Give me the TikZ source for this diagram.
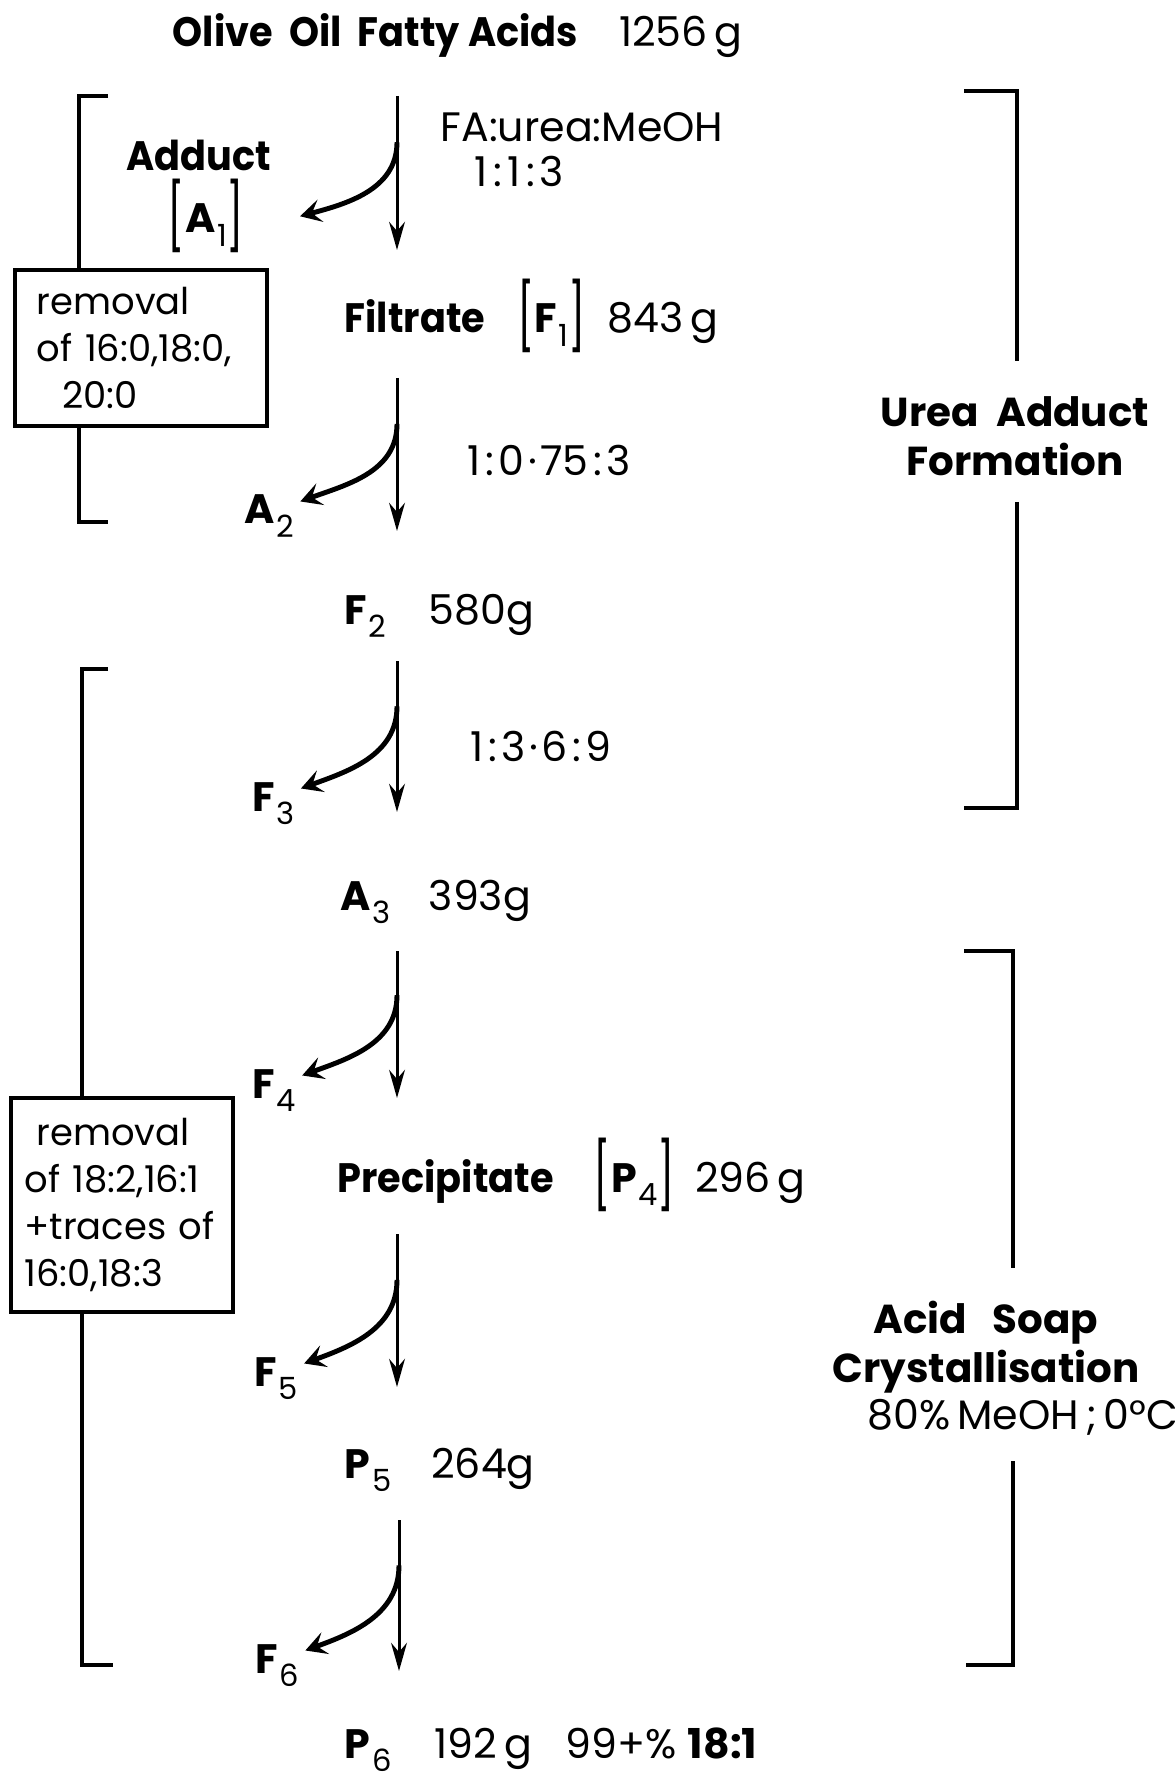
\documentclass[tikz,border=0pt]{standalone}
\usepackage{fontspec}
\setmainfont{Poppins}
\newfontfamily\narrowfont[FakeStretch=0.93]{Poppins}
\usepackage{graphicx}
\usetikzlibrary{arrows.meta, calc}

% narrow bold text
\newcommand{\nb}[1]{{\narrowfont\bfseries #1}}
% fraction label: bold letter with lowered index
\newcommand{\frc}[2]{\textbf{#1}\kern0.5pt\raisebox{-0.6ex}{\fontsize{8.7}{9}\selectfont #2}}
% tall square brackets round a fraction label
\newcommand{\bkt}[1]{\raisebox{-0.35ex}{\scalebox{1}[1.6]{[}}#1\raisebox{-0.35ex}{\scalebox{1}[1.6]{]}}}
% spaced colon and dot for the ratios
\newcommand{\cn}{\kern1.3pt:\kern1.3pt}
\newcommand{\dt}{\kern1pt·\kern1pt}

\begin{document}
\begin{tikzpicture}[
    every node/.style={inner sep=0pt},
    txt/.style={font=\fontsize{11.7}{14}\selectfont, anchor=base west},
    stage/.style={font=\bfseries\fontsize{11.5}{13.9}\selectfont, align=center},
    removal/.style={draw, line width=1.1pt, fill=white, align=left,
        font=\fontsize{10.5}{13.4}\selectfont, inner ysep=0pt},
    mainarr/.style={-{Stealth[length=8pt,width=4.5pt]}, line width=0.85pt},
    sidearr/.style={-{Stealth[length=6pt,width=6.5pt,inset=2.5pt]}, line width=1.4pt},
    bracket/.style={line width=1pt}
]
\useasboundingbox (0,0) rectangle (11.74,-17.79);

% Title
\node[txt] (title) at (1.72,-0.465) {\nb{Olive\ \ Oil\ \ Fatty\ Acids}\hspace{0.41cm}1256\,g};

% Left brackets
\draw[bracket] (1.08,-0.96) -- (0.79,-0.96) -- (0.79,-5.22) -- (1.08,-5.22);
\draw[bracket] (1.08,-6.69) -- (0.82,-6.69) -- (0.82,-16.65) -- (1.13,-16.65);

% Removal boxes
\node[removal, text width=2.08cm, minimum height=1.56cm, inner xsep=0.22cm] (rm1) at (1.41,-3.48)
    {removal\\of 16:0,18:0,\\\hspace*{0.25cm}20:0};
\node[removal, text width=1.95cm, minimum height=2.14cm, inner xsep=0.135cm] (rm2) at (1.22,-12.05)
    {\hspace*{0.12cm}removal\\of 18:2,16:1\\+traces of\\16:0,18:3};

% Right brackets
\draw[bracket] (9.64,-0.91) -- (10.17,-0.91) -- (10.17,-3.61);
\draw[bracket] (10.17,-5.02) -- (10.17,-8.08) -- (9.64,-8.08);
\draw[bracket] (9.64,-9.51) -- (10.13,-9.51) -- (10.13,-12.68);
\draw[bracket] (10.13,-14.61) -- (10.13,-16.65) -- (9.66,-16.65);

% Stage labels
\node[stage] (uaf) at (10.15,-4.36) {Urea\ \ Adduct\\Formation};
\node[stage] (asc) at (9.86,-13.47) {Acid\ \ \ Soap\\Crystallisation};
\node[txt, anchor=base] (cond) at (10.23,-14.29) {80\%\,MeOH\,;\,0°C};

% Adduct and ratios
\node[txt, anchor=base] (adduct) at (1.99,-1.71) {\nb{Adduct}};
\node[txt, anchor=base] (a1) at (2.06,-2.33) {\bkt{\frc{A}{1}}};
\node[txt] (ratio1) at (4.40,-1.42) {FA:urea:MeOH};
\node[txt] (ratio1b) at (4.74,-1.87) {1\kern0.4pt\cn1\kern0.4pt\cn3};
\node[txt] (ratio2) at (4.67,-4.76) {1\cn0\dt75\cn3};
\node[txt] (ratio3) at (4.70,-7.61) {1\cn3\dt6\cn9};

% Main column
\node[txt] (f1) at (3.44,-3.33) {\nb{Filtrate}\hspace{0.32cm}\bkt{\frc{F}{1}}\hspace{0.22cm}843\,g};
\node[txt] (f2) at (3.44,-6.24) {\frc{F}{2}\hspace{0.42cm}580g};
\node[txt] (a3) at (3.40,-9.10) {\frc{A}{3}\hspace{0.38cm}393g};
\node[txt] (p4) at (3.37,-11.92) {\nb{Precipitate}\hspace{0.40cm}\bkt{\frc{P}{4}}\hspace{0.20cm}296\,g};
\node[txt] (p5) at (3.44,-14.78) {\frc{P}{5}\hspace{0.40cm}264g};
\node[txt] (p6) at (3.44,-17.58) {\frc{P}{6}\hspace{0.43cm}192\,g\hspace{0.34cm}99+\%\ \textbf{18:1}};

% Side products
\node[txt] (a2) at (2.44,-5.24) {\frc{A}{2}};
\node[txt] (f3) at (2.52,-8.11) {\frc{F}{3}};
\node[txt] (f4) at (2.52,-10.98) {\frc{F}{4}};
\node[txt] (f5) at (2.54,-13.86) {\frc{F}{5}};
\node[txt] (f6) at (2.55,-16.73) {\frc{F}{6}};

% Arrow ends
\coordinate (s1) at (3.97,-0.96);  \coordinate (e1) at (3.97,-2.50);
\coordinate (s2) at (3.97,-3.78);  \coordinate (e2) at (3.97,-5.31);
\coordinate (s3) at (3.97,-6.61);  \coordinate (e3) at (3.97,-8.12);
\coordinate (s4) at (3.97,-9.51);  \coordinate (e4) at (3.97,-10.98);
\coordinate (s5) at (3.97,-12.34); \coordinate (e5) at (3.97,-13.87);
\coordinate (s6) at (3.99,-15.20); \coordinate (e6) at (3.99,-16.71);

% Arrows
\draw[mainarr] (s1) -- (e1);
\draw[sidearr] ($(s1)!0.3!(e1)$) to[out=-90, in=15] ([xshift=0.55cm]a1.east);
\draw[mainarr] (s2) -- (e2);
\draw[sidearr] ($(s2)!0.3!(e2)$) to[out=-90, in=20] ([shift={(1.5pt,-2pt)}]a2.north east);
\draw[mainarr] (s3) -- (e3);
\draw[sidearr] ($(s3)!0.3!(e3)$) to[out=-90, in=20] ([shift={(1.5pt,-2pt)}]f3.north east);
\draw[mainarr] (s4) -- (e4);
\draw[sidearr] ($(s4)!0.3!(e4)$) to[out=-90, in=20] ([shift={(1.5pt,-2pt)}]f4.north east);
\draw[mainarr] (s5) -- (e5);
\draw[sidearr] ($(s5)!0.3!(e5)$) to[out=-90, in=20] ([shift={(1.5pt,-2pt)}]f5.north east);
\draw[mainarr] (s6) -- (e6);
\draw[sidearr] ($(s6)!0.3!(e6)$) to[out=-90, in=20] ([shift={(1.5pt,-2pt)}]f6.north east);

\end{tikzpicture}
\end{document}
